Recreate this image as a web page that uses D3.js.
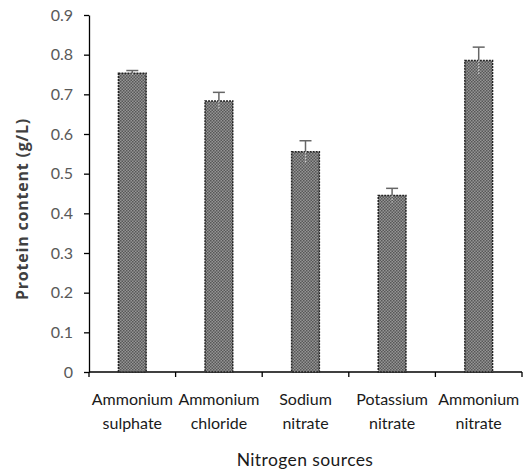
<!DOCTYPE html>
<html>
<head>
<meta charset="utf-8">
<script src="https://cdn.jsdelivr.net/npm/d3@7"></script>
<style>
body { margin: 0; background: #fff; }
text { font-family: Lato, "Open Sans", sans-serif; }
</style>
</head>
<body>
<script>
var sources = ["Ammonium sulphate", "Ammonium chloride", "Sodium nitrate", "Potassium nitrate", "Ammonium nitrate"];
var protein = [0.753, 0.683, 0.555, 0.445, 0.785];
var errors = [0.007, 0.022, 0.028, 0.018, 0.034];
var yTicks = [0, 0.1, 0.2, 0.3, 0.4, 0.5, 0.6, 0.7, 0.8, 0.9];

var data = sources.map(function(s, i) {
    return { name: s, value: protein[i], err: errors[i] };
});

var svg = d3.select("body").append("svg")
    .attr("width", 531)
    .attr("height", 472);

// checkered fill like the original bars
var pat = svg.append("defs").append("pattern")
    .attr("id", "hatch")
    .attr("width", 3)
    .attr("height", 3)
    .attr("patternUnits", "userSpaceOnUse");
pat.append("rect").attr("width", 3).attr("height", 3).attr("fill", "#959595");
pat.append("rect").attr("width", 1.5).attr("height", 1.5).attr("fill", "#585858");
pat.append("rect").attr("x", 1.5).attr("y", 1.5).attr("width", 1.5).attr("height", 1.5).attr("fill", "#585858");

var x = d3.scaleBand()
    .domain(sources)
    .range([89, 522])
    .paddingInner(0.68)
    .paddingOuter(0.34);

var y = d3.scaleLinear()
    .domain([0, 0.9])
    .range([372, 15]);

// y axis
var yAxis = svg.append("g")
    .attr("transform", "translate(89,0)")
    .call(d3.axisLeft(y).tickValues(yTicks).tickSize(5).tickSizeOuter(0)
        .tickFormat(function(d) { return d === 0 ? "0" : d3.format(".1f")(d); }));
yAxis.select(".domain").attr("stroke", "#000").attr("stroke-width", 1.3);
yAxis.selectAll(".tick line").attr("stroke", "#000").attr("stroke-width", 1.3);
yAxis.selectAll(".tick text")
    .attr("x", -16)
    .attr("fill", "#595959")
    .style("font-size", "16px");

// x axis with ticks between categories
var xAxisG = svg.append("g").attr("transform", "translate(0,372)");
xAxisG.append("line")
    .attr("x1", 89).attr("x2", 522)
    .attr("stroke", "#000").attr("stroke-width", 1.3);
var step = x.step();
var edges = d3.range(sources.length + 1).map(function(i) {
    return x(sources[0]) - step * x.paddingOuter() + i * step;
});
xAxisG.selectAll(".xt")
    .data(edges)
    .enter()
    .append("line")
    .attr("x1", function(d) { return d; })
    .attr("x2", function(d) { return d; })
    .attr("y1", 0)
    .attr("y2", 5)
    .attr("stroke", "#000")
    .attr("stroke-width", 1.3);

// category labels, two lines each
var lab = svg.selectAll(".cat")
    .data(data)
    .enter()
    .append("text")
    .attr("class", "cat")
    .attr("text-anchor", "middle")
    .attr("fill", "#1a1a1a")
    .style("font-size", "16px");
lab.append("tspan")
    .attr("x", function(d) { return x(d.name) + x.bandwidth() / 2; })
    .attr("y", 405)
    .text(function(d) { return d.name.split(" ")[0]; });
lab.append("tspan")
    .attr("x", function(d) { return x(d.name) + x.bandwidth() / 2; })
    .attr("y", 429)
    .text(function(d) { return d.name.split(" ")[1]; });

// bars
svg.selectAll(".bar")
    .data(data)
    .enter()
    .append("rect")
    .attr("class", "bar")
    .attr("x", function(d) { return x(d.name); })
    .attr("y", function(d) { return y(d.value); })
    .attr("width", x.bandwidth())
    .attr("height", function(d) { return y(0) - y(d.value); })
    .attr("fill", "url(#hatch)")
    .attr("stroke", "#222")
    .attr("stroke-width", 1.5)
    .attr("stroke-dasharray", "2,1");

// error bars
var eb = svg.selectAll(".err")
    .data(data)
    .enter()
    .append("g")
    .attr("class", "err");
eb.append("line")
    .attr("x1", function(d) { return x(d.name) + x.bandwidth() / 2; })
    .attr("x2", function(d) { return x(d.name) + x.bandwidth() / 2; })
    .attr("y1", function(d) { return y(d.value); })
    .attr("y2", function(d) { return y(d.value + d.err); })
    .attr("stroke", "#666")
    .attr("stroke-width", 1.5);
eb.append("line")
    .attr("x1", function(d) { return x(d.name) + x.bandwidth() / 2 - 6; })
    .attr("x2", function(d) { return x(d.name) + x.bandwidth() / 2 + 6; })
    .attr("y1", function(d) { return y(d.value + d.err); })
    .attr("y2", function(d) { return y(d.value + d.err); })
    .attr("stroke", "#666")
    .attr("stroke-width", 1.5);
eb.append("line")
    .attr("x1", function(d) { return x(d.name) + x.bandwidth() / 2; })
    .attr("x2", function(d) { return x(d.name) + x.bandwidth() / 2; })
    .attr("y1", function(d) { return y(d.value); })
    .attr("y2", function(d) { return y(d.value - d.err); })
    .attr("stroke", "#ccc")
    .attr("stroke-width", 1.2)
    .attr("stroke-dasharray", "1.5,1.5");

// axis titles
svg.append("text")
    .attr("transform", "translate(28,209) rotate(-90)")
    .attr("text-anchor", "middle")
    .attr("fill", "#404040")
    .style("font-family", "'Open Sans', sans-serif")
    .style("font-weight", "bold")
    .style("font-size", "16px")
    .style("letter-spacing", "0.8px")
    .text("Protein content (g/L)");

svg.append("text")
    .attr("x", 305)
    .attr("y", 466)
    .attr("text-anchor", "middle")
    .attr("fill", "#1a1a1a")
    .style("font-size", "17.5px")
    .style("letter-spacing", "0.4px")
    .text("Nitrogen sources");
</script>
</body>
</html>
